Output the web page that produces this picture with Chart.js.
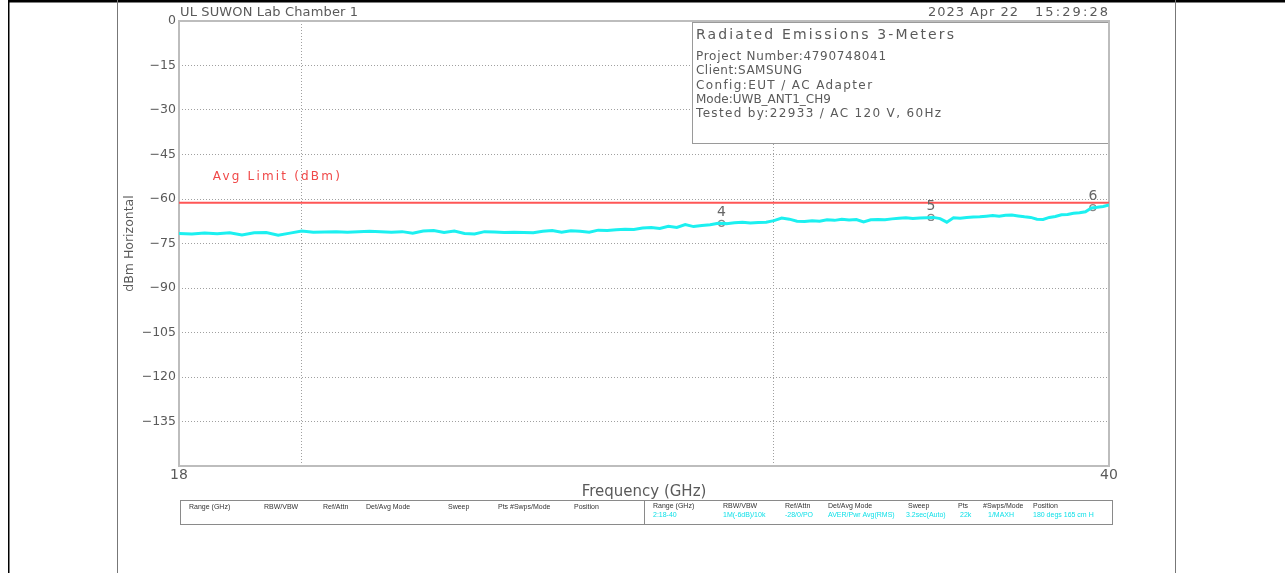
<!DOCTYPE html>
<html><head><meta charset="utf-8">
<script src="https://cdn.jsdelivr.net/npm/chart.js@4/dist/chart.umd.min.js"></script>
<style>html,body{margin:0;padding:0;background:#fff;overflow:hidden}canvas{display:block}</style>
</head><body>
<canvas id="c" width="1285" height="573" style="width:1285px;height:573px"></canvas>
<script>
// ---- data ----
const freqGHz = [
  18.0,18.2,18.4,18.6,18.8,19.0,19.2,19.4,19.6,19.8,
  20.0,20.2,20.4,20.6,20.8,21.0,21.2,21.4,21.6,21.8,
  22.0,22.2,22.4,22.6,22.8,23.0,23.2,23.4,23.6,23.8,
  24.0,24.2,24.4,24.6,24.8,25.0,25.2,25.4,25.6,25.8,
  26.0,26.2,26.4,26.6,26.8,27.0,27.2,27.4,27.6,27.8,
  28.0,28.2,28.4,28.6,28.8,29.0,29.2,29.4,29.6,29.8,
  30.0,30.2,30.4,30.6,30.8,31.0,31.2,31.4,31.6,31.8,
  32.0,32.2,32.4,32.6,32.8,33.0,33.2,33.4,33.6,33.8,
  34.0,34.2,34.4,34.6,34.8,35.0,35.2,35.4,35.6,35.8,
  36.0,36.2,36.4,36.6,36.8,37.0,37.2,37.4,37.6,37.8,
  38.0,38.2,38.4,38.6,38.8,39.0,39.2,39.4,39.6,39.8,
  40.0
];
const levelDbm = [
  -71.6,-71.8,-71.5,-71.7,-71.4,-72.1,-71.4,-71.3,-72.2,-71.5,
  -70.8,-71.2,-71.1,-71.0,-71.2,-71.0,-70.9,-71.0,-71.2,-71.0,
  -71.5,-70.8,-70.6,-71.3,-70.8,-71.6,-71.8,-71.0,-71.1,-71.3,
  -71.2,-71.3,-71.4,-70.9,-70.6,-71.2,-70.7,-70.9,-71.2,-70.5,
  -70.6,-70.4,-70.2,-70.3,-69.8,-69.6,-69.9,-69.2,-69.6,-68.6,
  -69.3,-68.9,-68.7,-68.2,-68.3,-68.0,-67.8,-68.1,-67.9,-67.8,
  -67.3,-66.4,-66.8,-67.5,-67.6,-67.3,-67.5,-67.0,-67.2,-66.8,
  -67.1,-66.9,-67.7,-67.0,-66.9,-67.0,-66.7,-66.5,-66.3,-66.6,
  -66.4,-66.3,-66.2,-66.6,-67.8,-66.3,-66.5,-66.2,-66.1,-66.0,
  -65.8,-65.6,-65.8,-65.5,-65.4,-65.7,-66.0,-66.2,-66.8,-66.9,
  -66.2,-65.9,-65.3,-65.2,-64.8,-64.6,-64.3,-63.0,-62.8,-62.5,
  -62.0
];
const limitFreq = [18, 40];
const limitDbm = [-61.3, -61.3];
const markerFreq = [28.68, 34.33, 39.45];
const markerDbm = [-68.2, -66.2, -62.9];
const markerLabels = ['4', '5', '6'];
const xTicks = [18, 20, 30, 40];
const xTickLabels = ['18', '', '', '40'];
const yTicks = [-150, -135, -120, -105, -90, -75, -60, -45, -30, -15, 0];
const yTickLabels = ['', '\u2212135', '\u2212120', '\u2212105', '\u221290', '\u221275', '\u221260', '\u221245', '\u221230', '\u221215', '0'];
const limitLabelAt = [18.53, -52.6];

const headerLeft = 'UL SUWON Lab Chamber 1';
const headerDate = '2023 Apr 22';
const headerTime = '15:29:28';
const infoTitle = 'Radiated Emissions 3-Meters';
const infoLines = ['Project Number:4790748041', 'Client:SAMSUNG', 'Config:EUT / AC Adapter', 'Mode:UWB_ANT1_CH9', 'Tested by:22933 / AC 120 V, 60Hz'];
const tableHeaders = ['Range (GHz)', 'RBW/VBW', 'Ref/Attn', 'Det/Avg Mode', 'Sweep', 'Pts', '#Swps/Mode', 'Position'];
const tableValues = ['2:18-40', '1M(-6dB)/10k', '-28/0/PO', 'AVER/Pwr Avg(RMS)', '3.2sec(Auto)', '22k', '1/MAXH', '180 degs 165 cm H'];

// ---- helpers ----
const FONT = 'DejaVu Sans';
const GRAY = '#5a5a5a';
function drawFit(ctx, text, x, y, w, size, color) {
  ctx.save();
  ctx.letterSpacing = '0px';
  ctx.font = size + 'px "' + FONT + '"';
  const m = ctx.measureText(text).width;
  let ls = (w && text.length > 1) ? (w - m) / (text.length - 1) : 0;
  if (ls < 0) ls = 0;
  ctx.letterSpacing = ls.toFixed(2) + 'px';
  ctx.fillStyle = color; ctx.textBaseline = 'middle'; ctx.textAlign = 'left';
  ctx.fillText(text, x, y);
  ctx.restore();
}

const decor = {
  id: 'decor',
  beforeDraw(chart) {
    const ctx = chart.ctx;
    ctx.save();
    ctx.fillStyle = '#fff'; ctx.fillRect(0, 0, chart.width, chart.height);
    ctx.fillStyle = '#000';
    ctx.fillRect(8, 0, chart.width - 8, 2.5);
    ctx.fillRect(8, 0, 1.5, chart.height);
    ctx.fillStyle = '#777';
    ctx.fillRect(117, 0, 1, chart.height);
    ctx.fillRect(1175, 0, 1, chart.height);
    ctx.restore();
  },
  beforeDatasetsDraw(chart) {
    const ctx = chart.ctx, a = chart.chartArea;
    ctx.save();
    ctx.fillStyle = '#fff';
    ctx.fillRect(692, 22, a.right - 692, 121);
    ctx.strokeStyle = '#9a9a9a'; ctx.lineWidth = 1;
    ctx.strokeRect(692.5, 22.5, a.right - 692, 121);
    ctx.strokeStyle = '#bdbdbd'; ctx.lineWidth = 2;
    ctx.strokeRect(a.left, a.top, a.right - a.left, a.bottom - a.top);
    ctx.restore();
  },
  afterDatasetsDraw(chart) {
    const ctx = chart.ctx;
    const meta = chart.getDatasetMeta(2);
    ctx.save();
    ctx.font = '14px "' + FONT + '"';
    ctx.fillStyle = '#666'; ctx.textAlign = 'center'; ctx.textBaseline = 'middle';
    meta.data.forEach((p, i) => ctx.fillText(markerLabels[i], p.x, p.y - 11));
    ctx.restore();
    const xs = chart.scales.x, ys = chart.scales.y;
    drawFit(ctx, 'Avg Limit (dBm)', xs.getPixelForValue(limitLabelAt[0]), ys.getPixelForValue(limitLabelAt[1]), 127, 12, '#f04848');
  },
  afterDraw(chart) {
    const ctx = chart.ctx;
    drawFit(ctx, headerLeft, 180, 13, 178, 13, GRAY);
    drawFit(ctx, headerDate, 928, 13, 90, 13, GRAY);
    drawFit(ctx, headerTime, 1035, 13, 73, 13, GRAY);
    drawFit(ctx, infoTitle, 696, 35, 258, 14, GRAY);
    const iy = [57, 71, 86, 100, 114];
    const iw = [190, 106, 176, 0, 245];
    infoLines.forEach((t, i) => drawFit(ctx, t, 696, iy[i], iw[i], 12, GRAY));
    ctx.save();
    ctx.strokeStyle = '#8a8a8a'; ctx.lineWidth = 1;
    ctx.strokeRect(180.5, 500.5, 932, 24);
    ctx.beginPath(); ctx.moveTo(644.5, 500.5); ctx.lineTo(644.5, 524.5); ctx.stroke();
    ctx.font = '7px "Liberation Sans"';
    ctx.textBaseline = 'middle'; ctx.textAlign = 'left';
    const lx = [189, 264, 323, 366, 448, 498, 510, 574];
    const rx = [653, 723, 785, 828, 908, 958, 983, 1033];
    const vx = [653, 723, 785, 828, 906, 960, 988, 1033];
    ctx.fillStyle = '#333';
    tableHeaders.forEach((t, i) => ctx.fillText(t, lx[i], 507));
    tableHeaders.forEach((t, i) => ctx.fillText(t, rx[i], 506));
    ctx.fillStyle = '#10e0e8';
    tableValues.forEach((t, i) => ctx.fillText(t, vx[i], 515));
    ctx.restore();
  }
};

new Chart(document.getElementById('c'), {
  type: 'line',
  data: {
    datasets: [
      { label: 'Trace', data: freqGHz.map((f, i) => ({ x: f, y: levelDbm[i] })),
        borderColor: '#1cf0f0', borderWidth: 3, pointRadius: 0, tension: 0 },
      { label: 'Avg Limit (dBm)', data: limitFreq.map((f, i) => ({ x: f, y: limitDbm[i] })),
        borderColor: '#ff5656', borderWidth: 2, pointRadius: 0 },
      { type: 'scatter', label: 'Markers', data: markerFreq.map((f, i) => ({ x: f, y: markerDbm[i] })),
        pointStyle: 'circle', pointRadius: 3, borderColor: '#888', backgroundColor: 'rgba(0,0,0,0)', borderWidth: 1.3, showLine: false }
    ]
  },
  options: {
    responsive: false, animation: false, devicePixelRatio: 1,
    layout: { padding: { left: 117, top: 21, right: 176, bottom: 72 } },
    plugins: { legend: { display: false }, tooltip: { enabled: false } },
    scales: {
      x: {
        type: 'logarithmic', min: 18, max: 40,
        afterBuildTicks: s => { s.ticks = xTicks.map(v => ({ value: v })); },
        afterFit: s => { s.height = 35; },
        ticks: { autoSkip: false, maxRotation: 0, padding: 1, color: GRAY,
          font: { family: FONT, size: 14 }, callback: (v, i) => xTickLabels[i] },
        grid: { color: c => (c.tick && c.tick.value > 18 && c.tick.value < 40) ? '#a0a0a0' : 'rgba(0,0,0,0)', lineWidth: 1, drawTicks: false },
        border: { display: false, dash: [1, 2] },
        title: { display: true, text: 'Frequency (GHz)', color: GRAY, font: { family: FONT, size: 15 }, padding: 0 }
      },
      y: {
        type: 'linear', min: -150, max: 0,
        afterBuildTicks: s => { s.ticks = yTicks.map(v => ({ value: v })); },
        afterFit: s => { s.width = 62; },
        ticks: { autoSkip: false, padding: 3, color: GRAY,
          font: { family: FONT, size: 12.5 }, callback: (v, i) => yTickLabels[i] },
        grid: { color: c => (c.tick && c.tick.value > -150 && c.tick.value < 0) ? '#a0a0a0' : 'rgba(0,0,0,0)', lineWidth: 1, drawTicks: false },
        border: { display: false, dash: [1, 2] },
        title: { display: true, text: 'dBm Horizontal', color: GRAY, font: { family: FONT, size: 12.5 }, padding: { top: 5, bottom: 0 } }
      }
    }
  },
  plugins: [decor]
});
</script>
</body></html>
